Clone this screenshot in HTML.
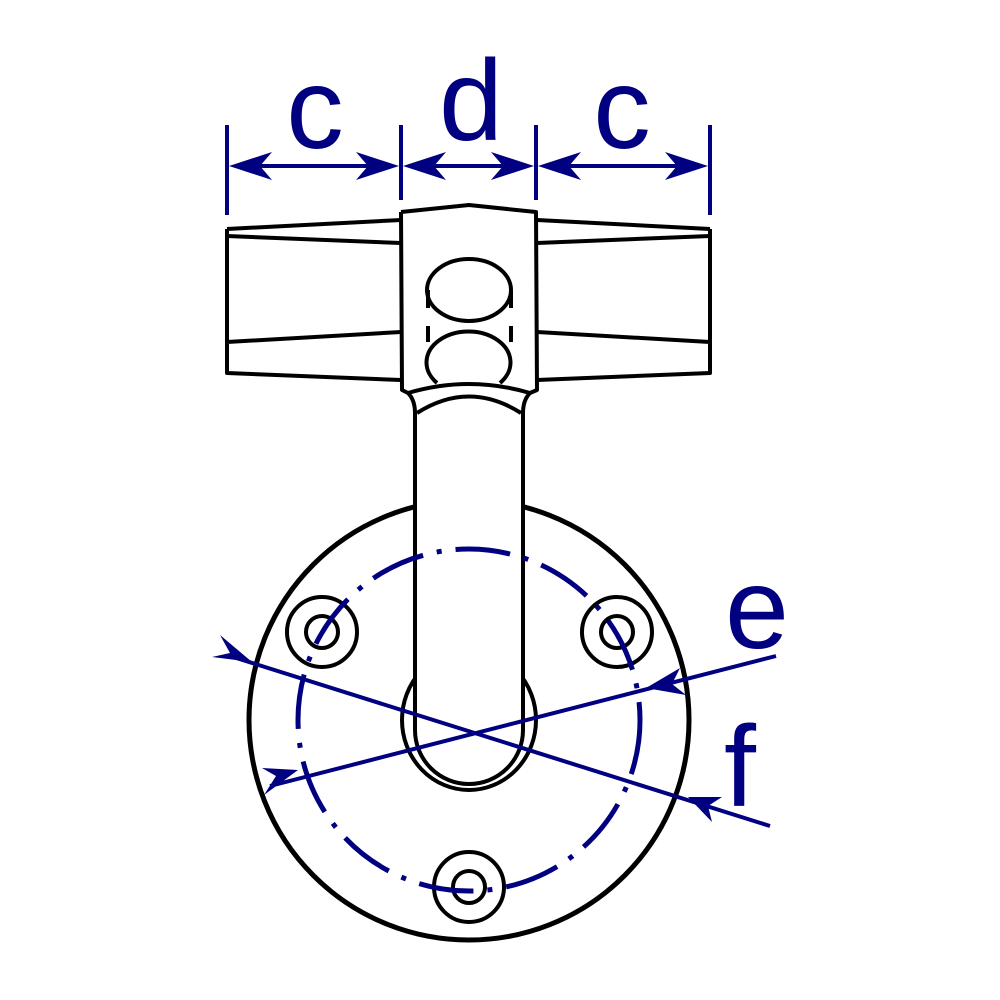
<!DOCTYPE html>
<html><head><style>body{margin:0;background:#fff}svg{display:block}</style></head><body>
<svg width="1000" height="1000" viewBox="0 0 1000 1000" xmlns="http://www.w3.org/2000/svg">
<g fill="none" stroke="#000" stroke-width="4" stroke-linejoin="round">
<circle cx="469" cy="720" r="220" fill="#fff" stroke-width="5"/>
<circle cx="322" cy="632" r="35"/><circle cx="322" cy="632" r="16"/>
<circle cx="617" cy="632" r="35"/><circle cx="617" cy="632" r="16"/>
<circle cx="469" cy="887" r="35"/><circle cx="469" cy="887" r="16"/>
<ellipse cx="469" cy="720" rx="67" ry="70" fill="#fff"/>
<path d="M415 413 L415 730 A54 54 0 0 0 523 730 L523 413" fill="#fff"/>
<path d="M227 229 L401 220 M227 236 L401 243 M227 229 L227 373 L401 380 M227 342 L401 332"/>
<path d="M710 229 L537 220 M710 236 L537 243 M710 229 L710 373 L537 380 M710 342 L537 332"/>
<path d="M401 212 L469 205 L536 212 L537 390 L530 393 Q523 400 523 413 M401 212 L402 390 L408 393 Q415 400 415 413" fill="#fff"/>
<path d="M408 393 Q469 375 530 393"/>
<path d="M417 413 Q469 380 521 413"/>
<ellipse cx="469" cy="290" rx="42" ry="31"/>
<path d="M428 290 L428 308 M511 290 L511 308 M428 326 L428 342 M511 326 L511 342"/>
<path d="M437 383 A42 31 0 1 1 500 383"/>
</g>
<g stroke="#000080" stroke-width="4" fill="none">
<circle cx="469" cy="720" r="171" stroke-width="5" stroke-dasharray="55 14 5 14"/>
<path d="M227 125 V215 M401 125 V200 M536 125 V200 M710 125 V215"/>
<path d="M240 166 H388 M414 166 H523 M549 166 H697"/>
<path d="M230 656 L770 826"/>
<path d="M270 786 L776 656"/>
</g>
<g fill="#000080">
<path d="M229 166 L272 152 L260 166 L272 180Z"/>
<path d="M399 166 L356 152 L368 166 L356 180Z"/>
<path d="M403 166 L446 152 L434 166 L446 180Z"/>
<path d="M534 166 L491 152 L503 166 L491 180Z"/>
<path d="M538 166 L581 152 L569 166 L581 180Z"/>
<path d="M708 166 L665 152 L677 166 L665 180Z"/>
<path d="M252 662 L220 635 L230 653 L212 657Z"/>
<path d="M688 797 L722 797 L708 806 L712 822Z"/>
<path d="M646 688 L680 668 L672 684 L686 695Z"/>
<path d="M298 770 L262 768 L276 776 L264 795Z"/>
</g>
<g fill="#000080" font-family="Liberation Sans, sans-serif" font-size="115" text-anchor="middle">
<text x="315" y="148">c</text>
<text x="471" y="140">d</text>
<text x="622" y="148">c</text>
<text x="757" y="648">e</text>
<text x="740" y="806">f</text>
</g>
</svg>
</body></html>
